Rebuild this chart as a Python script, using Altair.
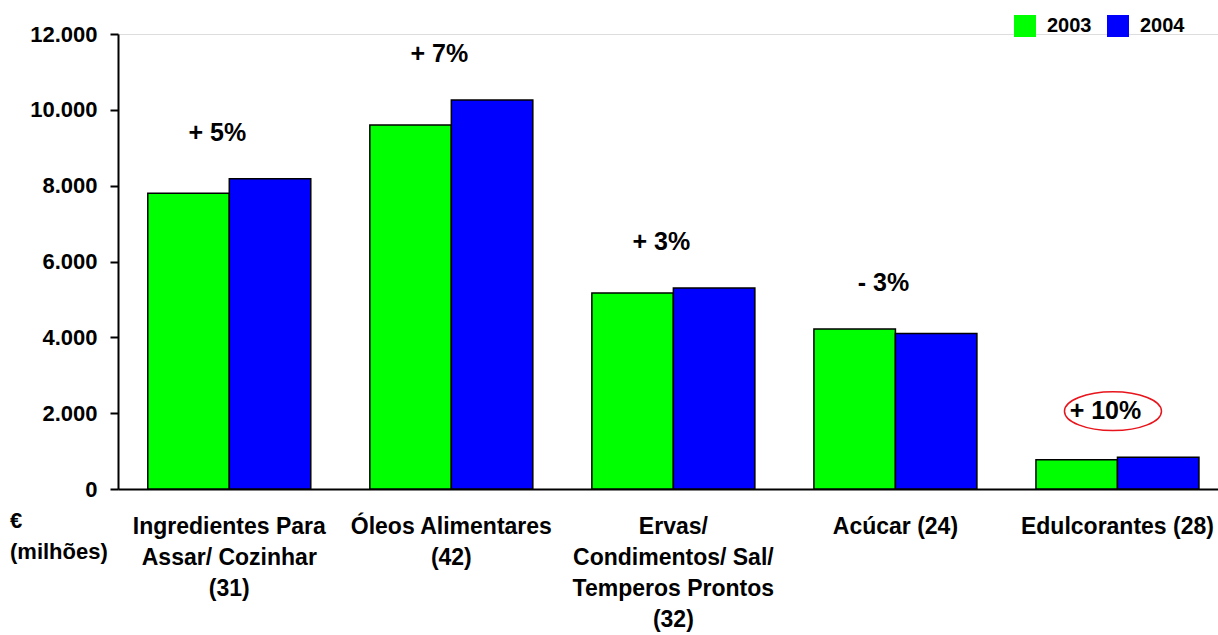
import altair as alt
import pandas as pd

categories = [
    "Ingredientes Para\nAssar/ Cozinhar\n(31)",
    "Óleos Alimentares\n(42)",
    "Ervas/\nCondimentos/ Sal/\nTemperos Prontos\n(32)",
    "Acúcar (24)",
    "Edulcorantes (28)",
]
years = ["2003", "2004"]
values_2003 = [7800, 9600, 5170, 4220, 770]
values_2004 = [8180, 10260, 5300, 4100, 840]
growth_labels = ["+ 5%", "+ 7%", "+ 3%", "- 3%", "+ 10%"]
y_ticks = [0, 2000, 4000, 6000, 8000, 10000, 12000]
colors = ["#00FF00", "#0000FF"]
highlight_category = categories[4]

FONT = "Liberation Sans"

rows = []
for c, a, b in zip(categories, values_2003, values_2004):
    rows.append({"cat": c, "year": years[0], "value": a})
    rows.append({"cat": c, "year": years[1], "value": b})
bars_df = pd.DataFrame(rows)

ann_df = pd.DataFrame({
    "cat": categories,
    "top": [max(a, b) for a, b in zip(values_2003, values_2004)],
    "label": growth_labels,
})
ell_df = ann_df[ann_df["cat"] == highlight_category]
unit_df = pd.DataFrame({"t": [["€", "(milhões)"]]})

x_scale = alt.Scale(domain=categories, paddingInner=0.266, paddingOuter=0.11, align=0.61)
y_scale = alt.Scale(domain=[0, 12000], nice=False)

x_enc = alt.X(
    "cat:N",
    scale=x_scale,
    sort=categories,
    axis=alt.Axis(
        title=None,
        labelAngle=0,
        labelExpr="split(datum.label, '\\n')",
        labelFont=FONT,
        labelFontSize=23,
        labelFontWeight="bold",
        labelColor="black",
        labelLineHeight=31.3,
        labelPadding=26,
        labelLimit=400,
        ticks=False,
        domainColor="black",
        domainWidth=2,
    ),
)

bars = alt.Chart(bars_df).mark_bar(stroke="black", strokeWidth=1.5).encode(
    x=x_enc,
    xOffset=alt.XOffset("year:N", scale=alt.Scale(domain=years, paddingInner=0, paddingOuter=0)),
    y=alt.Y(
        "value:Q",
        scale=y_scale,
        axis=alt.Axis(
            title=None,
            values=y_ticks,
            grid=False,
            labelExpr="replace(format(datum.value, ','), ',', '.')",
            labelFont=FONT,
            labelFontSize=22,
            labelFontWeight="bold",
            labelColor="black",
            labelPadding=13,
            tickSize=8,
            tickColor="black",
            tickWidth=2,
            domainColor="black",
            domainWidth=2,
        ),
    ),
    color=alt.Color(
        "year:N",
        scale=alt.Scale(domain=years, range=colors),
        legend=alt.Legend(
            title=None,
            orient="none",
            legendX=896,
            legendY=-19,
            direction="horizontal",
            columns=2,
            symbolType="square",
            symbolSize=484,
            symbolStrokeWidth=0,
            symbolOpacity=1,
            labelFont=FONT,
            labelFontSize=20,
            labelFontWeight="bold",
            labelColor="black",
            labelOffset=11,
            columnPadding=15,
            padding=0,
        ),
    ),
)

ann = alt.Chart(ann_df).mark_text(
    font=FONT, fontSize=25, fontWeight="bold", color="black",
    baseline="middle", align="center", dy=-46, dx=-12,
).encode(
    x=alt.X("cat:N", scale=x_scale, sort=categories),
    y=alt.Y("top:Q", scale=y_scale),
    text="label:N",
)

ellipse = alt.Chart(ell_df).mark_point(
    shape="M-1,0 A1,0.4 0 1,1 1,0 A1,0.4 0 1,1 -1,0 Z",
    size=9409, filled=False, stroke="#E8141B", strokeWidth=1.5, opacity=1,
).encode(
    x=alt.X("cat:N", scale=x_scale, sort=categories),
    y=alt.Y("top:Q", scale=y_scale),
    xOffset=alt.value(77),
    yOffset=alt.value(-46),
)

unit = alt.Chart(unit_df).mark_text(
    font=FONT, fontSize=22, fontWeight="bold", color="black",
    align="left", baseline="middle", lineHeight=31,
).encode(
    x=alt.value(-108),
    y=alt.value(487),
    text="t",
)

chart = alt.layer(bars, ann, ellipse, unit).properties(
    width=1100,
    height=455,
    padding={"left": 118, "top": 34, "right": 0, "bottom": 146},
    autosize=alt.AutoSizeParams(type="none"),
).configure_view(stroke=None).configure(background="white")

chart.save("out.html", embed_options={"renderer": "svg", "actions": False})
